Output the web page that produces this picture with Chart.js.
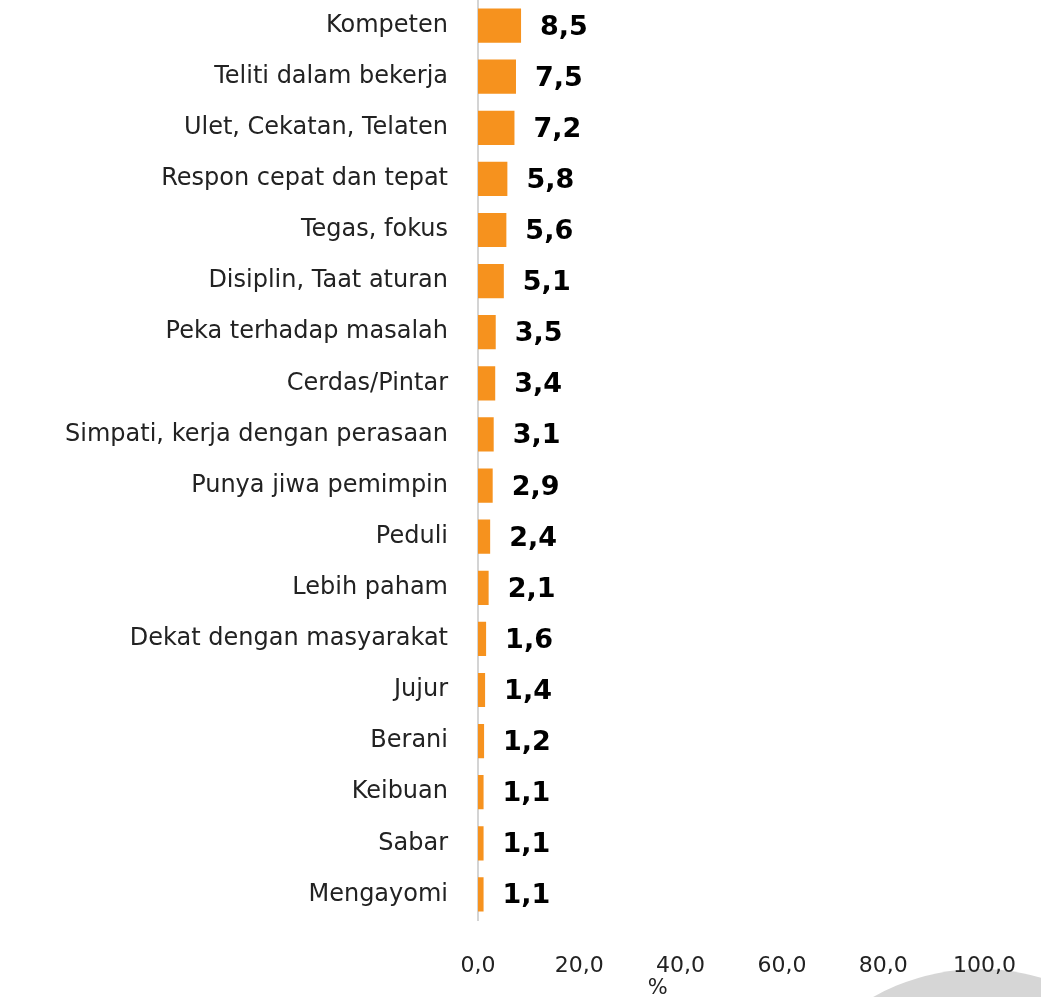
<!DOCTYPE html>
<html>
<head>
<meta charset="utf-8">
<script src="https://cdn.jsdelivr.net/npm/chart.js@4"></script>
<style>
  html, body { margin: 0; padding: 0; background: #fff; }
  #wrap { width: 1041px; height: 997px; position: relative; }
</style>
</head>
<body>
<div id="wrap"><canvas id="chart"></canvas></div>
<script>
const categories = [
  'Kompeten', 'Teliti dalam bekerja', 'Ulet, Cekatan, Telaten', 'Respon cepat dan tepat',
  'Tegas, fokus', 'Disiplin, Taat aturan', 'Peka terhadap masalah', 'Cerdas/Pintar',
  'Simpati, kerja dengan perasaan', 'Punya jiwa pemimpin', 'Peduli', 'Lebih paham',
  'Dekat dengan masyarakat', 'Jujur', 'Berani', 'Keibuan', 'Sabar', 'Mengayomi'
];
const values = [8.5, 7.5, 7.2, 5.8, 5.6, 5.1, 3.5, 3.4, 3.1, 2.9, 2.4, 2.1, 1.6, 1.4, 1.2, 1.1, 1.1, 1.1];
const xTicks = [0, 20, 40, 60, 80, 100];

const fmt = v => v.toFixed(1).replace('.', ',');
const FONT = "'DejaVu Sans', sans-serif";

// value labels next to each bar
const valueLabels = {
  id: 'valueLabels',
  afterDatasetsDraw(chart) {
    const ctx = chart.ctx;
    const meta = chart.getDatasetMeta(0);
    ctx.save();
    ctx.font = 'bold 27px ' + FONT;
    ctx.fillStyle = '#000';
    ctx.textBaseline = 'middle';
    ctx.textAlign = 'left';
    meta.data.forEach((bar, i) => {
      ctx.fillText(fmt(values[i]), bar.x + 19, bar.y + 2);
    });
    ctx.restore();
  }
};

// grey disc in the lower right corner
const cornerDisc = {
  id: 'cornerDisc',
  beforeDraw(chart) {
    const ctx = chart.ctx;
    ctx.save();
    ctx.fillStyle = '#d6d6d6';
    ctx.beginPath();
    ctx.arc(980, 1187, 218, 0, Math.PI * 2);
    ctx.fill();
    ctx.restore();
  }
};

new Chart(document.getElementById('chart'), {
  type: 'bar',
  data: {
    labels: categories,
    datasets: [{
      data: values,
      backgroundColor: '#F6921E',
      barPercentage: 0.67,
      categoryPercentage: 1
    }]
  },
  options: {
    indexAxis: 'y',
    responsive: true,
    maintainAspectRatio: false,
    animation: false,
    layout: { padding: { top: 0, right: 48, bottom: 0, left: 0 } },
    plugins: {
      legend: { display: false },
      tooltip: { enabled: false }
    },
    scales: {
      x: {
        min: 0,
        max: 100,
        afterBuildTicks(scale) {
          scale.ticks = xTicks.map(v => ({ value: v }));
        },
        afterFit(scale) { scale.height = 77; },
        grid: { display: false },
        border: { display: false },
        ticks: {
          padding: 25,
          color: '#222',
          font: { family: FONT, size: 22 },
          callback: v => fmt(v)
        },
        title: {
          display: true,
          // trailing spaces pull the centred "%" left, as in the original
          text: '%                      ',
          color: '#222',
          font: { family: FONT, size: 21 },
          padding: { top: 0, bottom: -4 }
        }
      },
      y: {
        afterFit(scale) {
          scale.width = 478;
          scale.paddingTop = 0;
          scale.paddingBottom = 0;
        },
        grid: { display: false },
        border: { display: true, color: '#d4d4d4', width: 2 },
        ticks: {
          padding: 22,
          color: '#222',
          font: { family: FONT, size: 24 }
        }
      }
    }
  },
  plugins: [cornerDisc, valueLabels]
});
</script>
</body>
</html>
